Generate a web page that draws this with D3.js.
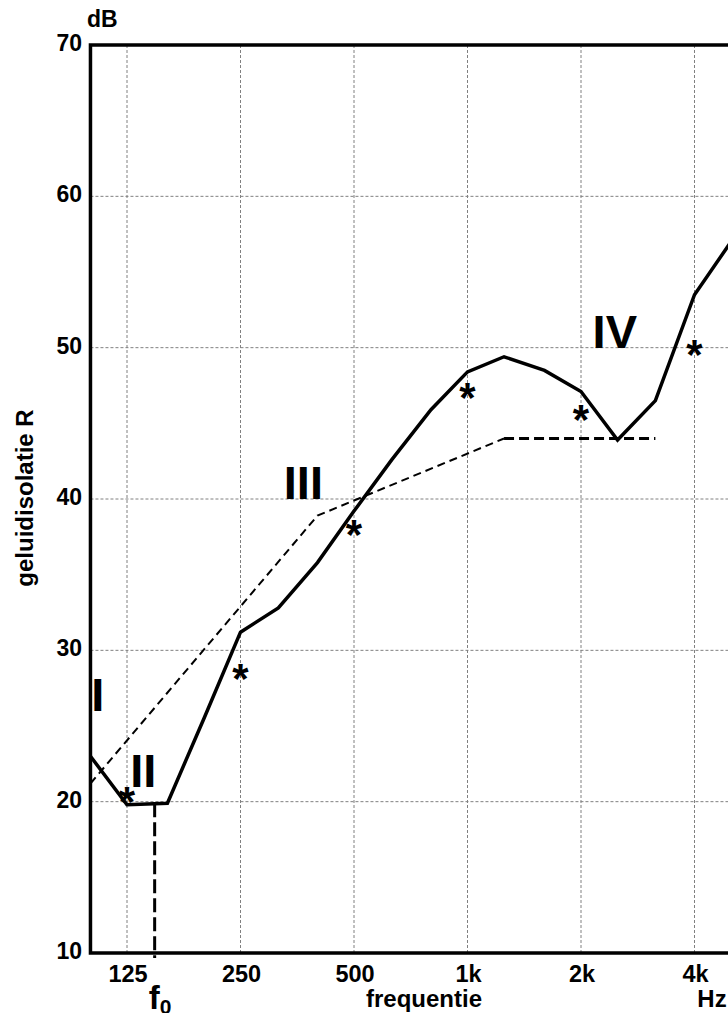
<!DOCTYPE html>
<html>
<head>
<meta charset="utf-8">
<script src="https://cdn.jsdelivr.net/npm/d3@7"></script>
<style>
  body { margin: 0; background: #fff; }
  text { font-family: "Liberation Sans", Arial, sans-serif; font-weight: bold; fill: #000; }
</style>
</head>
<body>
<div id="chart"></div>
<script>
// measured sound insulation R per 1/3 octave band
var bandFreqs = [100, 125, 160, 200, 250, 315, 400, 500, 630, 800, 1000, 1250, 1600, 2000, 2500, 3150, 4000, 5000];
var measuredR = [23.0, 19.8, 19.9, 25.5, 31.2, 32.8, 35.8, 39.2, 42.6, 45.9, 48.4, 49.4, 48.5, 47.1, 43.9, 46.5, 53.5, 57.0];

// reference curve (thin dashed part + flat heavy dashed part)
var refFreqs = [100, 400, 500, 1250];
var refR = [21.2, 38.9, 39.9, 44.0];
var refFlatFreqs = [1250, 3150];
var refFlatR = [44.0, 44.0];

// octave values marked with an asterisk
var octaveFreqs = [125, 250, 500, 1000, 2000, 4000];
var octaveR = [20.6, 28.7, 38.2, 47.3, 45.8, 50.1];

// axis ticks
var xTickFreqs = [125, 250, 500, 1000, 2000, 4000];
var xTickLabels = ["125", "250", "500", "1k", "2k", "4k"];
var yTicks = [10, 20, 30, 40, 50, 60, 70];

// resonance frequency f0
var f0 = 148;
var f0R = 19.9;

// region labels
var regionNames = ["I", "II", "III", "IV"];
var regionFreqs = [104.6, 138, 367, 2459];
var regionR = [26.0, 21.0, 40.0, 50.0];

var width = 728, height = 1013;

var svg = d3.select("#chart")
    .append("svg")
    .attr("width", width)
    .attr("height", height);

// log frequency scale, one octave ~113 px
var x = d3.scaleLog()
    .domain([125, 4000])
    .range([127, 694.5]);

var y = d3.scaleLinear()
    .domain([10, 70])
    .range([953, 45]);

var x0 = x(100);

// grid lines
svg.append("g")
   .selectAll("line")
   .data(xTickFreqs)
   .enter()
   .append("line")
   .attr("x1", function(d) { return x(d); })
   .attr("x2", function(d) { return x(d); })
   .attr("y1", y(70))
   .attr("y2", y(10))
   .attr("stroke", "#808080")
   .attr("stroke-width", 1)
   .attr("stroke-dasharray", "3,2");

svg.append("g")
   .selectAll("line")
   .data(yTicks.slice(1, -1))
   .enter()
   .append("line")
   .attr("x1", x0)
   .attr("x2", width)
   .attr("y1", function(d) { return y(d); })
   .attr("y2", function(d) { return y(d); })
   .attr("stroke", "#808080")
   .attr("stroke-width", 1)
   .attr("stroke-dasharray", "3,2");

// frame (left, bottom, top)
svg.append("path")
   .attr("d", "M" + width + "," + y(70) + "H" + x0 + "V" + y(10) + "H" + width)
   .attr("fill", "none")
   .attr("stroke", "#000")
   .attr("stroke-width", 3.5);

// y tick labels
svg.append("g")
   .selectAll("text")
   .data(yTicks)
   .enter()
   .append("text")
   .attr("x", 82)
   .attr("y", function(d) { return y(d) + 6; })
   .attr("text-anchor", "end")
   .attr("font-size", "23px")
   .text(function(d) { return d; });

// x tick labels
svg.append("g")
   .selectAll("text")
   .data(xTickFreqs)
   .enter()
   .append("text")
   .attr("x", function(d) { return x(d) + 1; })
   .attr("y", 982)
   .attr("text-anchor", "middle")
   .attr("font-size", "23.5px")
   .text(function(d, i) { return xTickLabels[i]; });

// units and axis titles
svg.append("text")
   .attr("x", 87)
   .attr("y", 27)
   .attr("font-size", "23px")
   .text("dB");

svg.append("text")
   .attr("transform", "translate(33,498) rotate(-90)")
   .attr("text-anchor", "middle")
   .attr("font-size", "24px")
   .text("geluidisolatie R");

svg.append("text")
   .attr("x", 424)
   .attr("y", 1007)
   .attr("text-anchor", "middle")
   .attr("font-size", "24px")
   .text("frequentie");

svg.append("text")
   .attr("x", 712)
   .attr("y", 1007)
   .attr("text-anchor", "middle")
   .attr("font-size", "24px")
   .text("Hz");

var line = d3.line()
    .x(function(d) { return x(d[0]); })
    .y(function(d) { return y(d[1]); });

// reference curve
svg.append("path")
   .datum(d3.zip(refFreqs, refR))
   .attr("d", line)
   .attr("fill", "none")
   .attr("stroke", "#000")
   .attr("stroke-width", 2)
   .attr("stroke-dasharray", "8,5");

svg.append("path")
   .datum(d3.zip(refFlatFreqs, refFlatR))
   .attr("d", line)
   .attr("fill", "none")
   .attr("stroke", "#000")
   .attr("stroke-width", 3)
   .attr("stroke-dasharray", "10,5");

// f0 marker
svg.append("line")
   .attr("x1", x(f0))
   .attr("x2", x(f0))
   .attr("y1", y(f0R))
   .attr("y2", y(10) + 5)
   .attr("stroke", "#000")
   .attr("stroke-width", 3)
   .attr("stroke-dasharray", "14,5");

var f0Label = svg.append("text")
   .attr("x", x(f0) - 6)
   .attr("y", 1009)
   .attr("font-size", "33px");
f0Label.append("tspan").text("f");
f0Label.append("tspan")
   .attr("font-size", "21px")
   .attr("dy", 5)
   .text("0");

// measured curve
svg.append("path")
   .datum(d3.zip(bandFreqs, measuredR))
   .attr("d", line)
   .attr("fill", "none")
   .attr("stroke", "#000")
   .attr("stroke-width", 3.5)
   .attr("stroke-linejoin", "miter");

// octave asterisks
svg.append("g")
   .selectAll("text")
   .data(d3.zip(octaveFreqs, octaveR))
   .enter()
   .append("text")
   .attr("x", function(d) { return x(d[0]); })
   .attr("y", function(d) { return y(d[1]) + 23; })
   .attr("text-anchor", "middle")
   .attr("font-size", "42px")
   .text("*");

// region labels
svg.append("g")
   .selectAll("text")
   .data(regionNames)
   .enter()
   .append("text")
   .attr("x", function(d, i) { return x(regionFreqs[i]); })
   .attr("y", function(d, i) { return y(regionR[i]); })
   .attr("text-anchor", "middle")
   .attr("font-size", "47px")
   .text(function(d) { return d; });
</script>
</body>
</html>
